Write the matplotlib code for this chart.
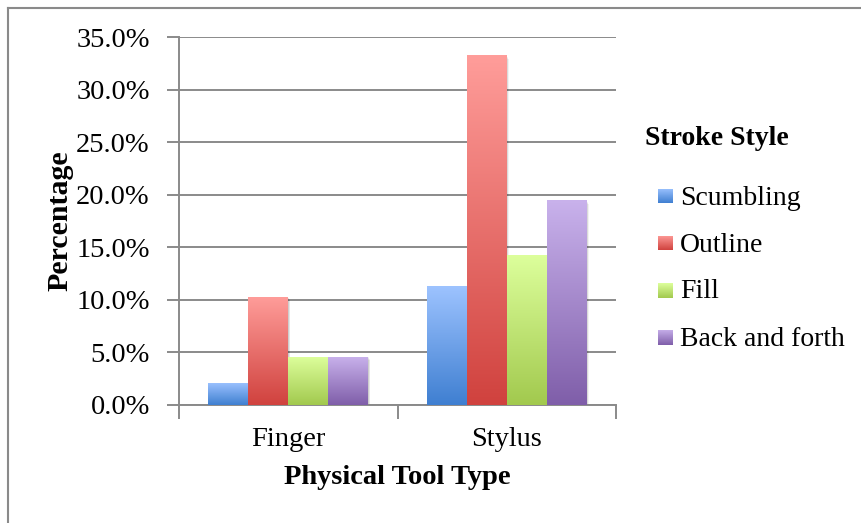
import numpy as np
import matplotlib.pyplot as plt
import matplotlib.transforms as mtransforms
from matplotlib.colors import LinearSegmentedColormap
from matplotlib.patches import Rectangle
from matplotlib.lines import Line2D

plt.rcParams['font.family'] = ['Liberation Serif', 'DejaVu Serif']

# datos (porcentajes)
categorias = ['Finger', 'Stylus']
estilos = ['Scumbling', 'Outline', 'Fill', 'Back and forth']
scumbling = [2.1, 11.3]
outline = [10.3, 33.3]
fill = [4.6, 14.3]
backforth = [4.6, 19.5]
series = [scumbling, outline, fill, backforth]
yticks = [0, 5, 10, 15, 20, 25, 30, 35]
ytick_labels = ['%.1f%%' % v for v in yticks]

# degradado: color arriba, color abajo
colores = [('#9dc3ff', '#3f7fd1'),
           ('#ff9d9a', '#d0423e'),
           ('#ddff9c', '#a2c94e'),
           ('#c9b2ec', '#7f5ea9')]
gris = '#8a8a8a'
W, H = 862, 523
fs = 20.5

fig = plt.figure(figsize=(W/100, H/100), dpi=100)
ax = fig.add_axes([179/W, 1-404.8/H, (616-179)/W, (404.8-37.3)/H])

x = np.arange(len(categorias))
ancho = 0.183
inicio = -0.5 + 0.133

barras = []
for i, vals in enumerate(series):
    pos = x + inicio + ancho*i + ancho/2
    b = ax.bar(pos, vals, ancho, facecolor='none', edgecolor='none', zorder=3)
    barras.append(b)

grad = np.linspace(1, 0, 256).reshape(-1, 1)
cmaps = [LinearSegmentedColormap.from_list('c%d' % i, [c[1], c[0]]) for i, c in enumerate(colores)]
for i, b in enumerate(barras):
    for r in b:
        x0, y0 = r.get_x(), r.get_y()
        w, h = r.get_width(), r.get_height()
        # sombra suave
        for k in range(1, 5):
            off = mtransforms.offset_copy(ax.transData, fig=fig, x=k*0.6, y=-k*0.9, units='dots')
            ax.add_patch(Rectangle((x0, y0), w, h, transform=off, facecolor='k',
                                   alpha=0.05, edgecolor='none', zorder=2))
        im = ax.imshow(grad, cmap=cmaps[i], extent=(x0, x0+w, y0, y0+h), aspect='auto',
                       interpolation='bilinear', zorder=3, vmin=0, vmax=1)
        im.set_clip_path(r)

ax.set_xlim(-0.5, 1.5)
ax.set_ylim(0, 35)

ax.set_yticks(yticks)
ax.set_yticklabels(ytick_labels)
ax.yaxis.grid(True, color=gris, lw=1.4)
ax.set_axisbelow(True)
ax.tick_params(axis='y', length=9, width=1.4, color=gris, pad=12, labelsize=fs)

ax.set_xticks([-0.5, 0.5, 1.5])
ax.set_xticklabels(['', '', ''])
ax.set_xticks(x, minor=True)
ax.set_xticklabels(categorias, minor=True)
ax.tick_params(axis='x', which='major', length=10, width=1.4, color=gris)
ax.tick_params(axis='x', which='minor', length=0, pad=16, labelsize=fs)

for s in ['top', 'right']:
    ax.spines[s].set_visible(False)
for s in ['left', 'bottom']:
    ax.spines[s].set_color(gris)
    ax.spines[s].set_linewidth(1.4)

fig.text(60/W, 1-221/H, 'Percentage', rotation=90, ha='center', va='center',
         fontsize=21.5, fontweight='bold')
fig.text(397/W, 1-477/H, 'Physical Tool Type', ha='center', va='center',
         fontsize=fs, fontweight='bold')

# leyenda
fig.text(645/W, 1-145/H, 'Stroke Style', ha='left', va='baseline', fontsize=20, fontweight='bold')
for i, nombre in enumerate(estilos):
    yc = 196 + 47*i
    cuadro = fig.add_axes([658/W, 1-(yc+7.5)/H, 15/W, 15/H])
    cuadro.imshow(grad, cmap=cmaps[i], aspect='auto', vmin=0, vmax=1, interpolation='bilinear')
    cuadro.axis('off')
    fig.text(680/W, 1-(yc+8.5)/H, nombre, ha='left', va='baseline', fontsize=20)

# marco del gráfico
fig.add_artist(Line2D([8/W, 8/W], [0, 1-8/H], transform=fig.transFigure, color=gris, lw=1.5))
fig.add_artist(Line2D([8/W, 1], [1-8/H, 1-8/H], transform=fig.transFigure, color=gris, lw=1.5))

fig.savefig('out.png', dpi=100)
